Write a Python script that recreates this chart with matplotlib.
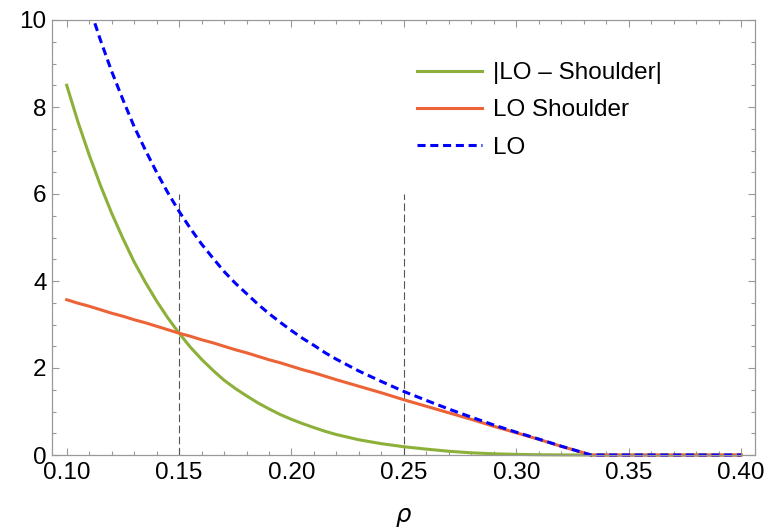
import matplotlib.pyplot as plt
from matplotlib.patches import Rectangle
from matplotlib.ticker import MultipleLocator, FormatStrFormatter

plt.rcParams['font.family'] = ['Liberation Sans', 'DejaVu Sans']
plt.rcParams['lines.scale_dashes'] = False

# rho grid and the three curves sampled on it
rho = [0.100, 0.105, 0.110, 0.115, 0.120, 0.125, 0.130, 0.135, 0.140, 0.145,
       0.150, 0.155, 0.160, 0.165, 0.17, 0.175, 0.18, 0.185, 0.19, 0.195,
       0.20, 0.205, 0.21, 0.215, 0.22, 0.23, 0.24,
       0.25, 0.26, 0.27, 0.28, 0.29, 0.30, 0.31, 0.32, 0.33, 0.3333, 0.40]

diff = [8.50, 7.66, 6.90, 6.20, 5.56, 4.98, 4.44, 3.97, 3.54, 3.15,
        2.80, 2.48, 2.20, 1.95, 1.72, 1.53, 1.36, 1.20, 1.06, 0.93,
        0.82, 0.72, 0.63, 0.544, 0.47, 0.35, 0.26,
        0.19, 0.135, 0.086, 0.050, 0.028, 0.014, 0.006, 0.002, 0.0, 0.0, 0.0]

shoulder = [3.57, 3.49, 3.42, 3.34, 3.26, 3.19, 3.11, 3.04, 2.96, 2.88,
            2.80, 2.73, 2.65, 2.58, 2.50, 2.42, 2.35, 2.27, 2.19, 2.12,
            2.04, 1.96, 1.89, 1.81, 1.73, 1.58, 1.43,
            1.27, 1.12, 0.97, 0.82, 0.66, 0.51, 0.36, 0.20, 0.05, 0.0, 0.0]

lo = [12.07, 11.15, 10.32, 9.54, 8.82, 8.17, 7.55, 7.01, 6.50, 6.03,
      5.60, 5.21, 4.85, 4.53, 4.22, 3.95, 3.71, 3.47, 3.25, 3.05,
      2.86, 2.68, 2.52, 2.35, 2.20, 1.93, 1.69,
      1.46, 1.255, 1.056, 0.87, 0.69, 0.524, 0.366, 0.202, 0.05, 0.0, 0.0]

marks = [0.15, 0.25]
mark_top = 6

fig = plt.figure(figsize=(7.68, 5.28), dpi=100)
ax = fig.add_axes([52.3 / 768, 1 - 455 / 528, (755 - 52.3) / 768, 435 / 528])

ax.vlines(marks, 0, mark_top, colors='#555555', linewidth=0.8,
          linestyles=[(0, (5.5, 2.5))])

# let the curves lying on y = 0 show in full instead of half-clipped
clip = Rectangle((0, -0.01), 1, 1.01, transform=ax.transAxes, visible=False)
ax.add_patch(clip)

l1, = ax.plot(rho, diff, color='#8db03a', lw=2.2, label='|LO \u2013 Shoulder|')
l2, = ax.plot(rho, shoulder, color='#ec6337', lw=2.2, label='LO Shoulder')
l3, = ax.plot(rho, lo, color='#0000ff', lw=2.2, dashes=(5.8, 3.4), label='LO')
for ln in (l1, l2, l3):
    ln.set_clip_path(clip)

ax.set_xlim(0.0936, 0.4062)
ax.set_ylim(0, 10)

ax.xaxis.set_major_locator(MultipleLocator(0.05))
ax.xaxis.set_minor_locator(MultipleLocator(0.01))
ax.xaxis.set_major_formatter(FormatStrFormatter('%.2f'))
ax.yaxis.set_major_locator(MultipleLocator(2))
ax.yaxis.set_minor_locator(MultipleLocator(0.5))

ax.tick_params(which='both', direction='in', top=True, right=True,
               color='#999999', labelsize=17.5, width=0.8)
ax.tick_params(which='major', length=5)
ax.tick_params(which='minor', length=3)
ax.tick_params(axis='x', pad=5)
ax.tick_params(axis='y', pad=4)
for s in ax.spines.values():
    s.set_color('#999999')
    s.set_linewidth(0.9)

ax.set_xlabel(r'$\rho$', fontsize=17.5, labelpad=16)

ax.legend(loc='upper left', bbox_to_anchor=(0.505, 0.925), frameon=False,
          fontsize=17.5, handlelength=2.67, handletextpad=0.45,
          labelspacing=0.62, borderaxespad=0)

fig.savefig('out.png', dpi=100)
